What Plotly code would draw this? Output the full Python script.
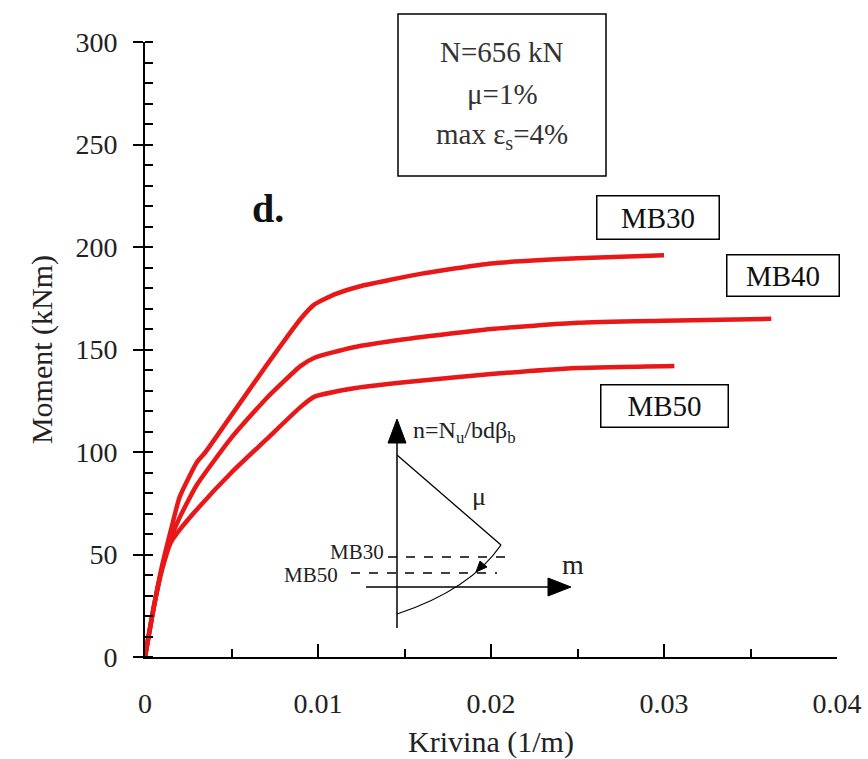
import plotly.graph_objects as go

# ---- data ----
mb30_x = [0, 0.0005, 0.001, 0.0015, 0.002, 0.003, 0.0035, 0.005, 0.007, 0.009, 0.0098, 0.011, 0.0125, 0.016, 0.02, 0.025, 0.030]
mb30_y = [0, 24, 45, 62, 78, 95, 100, 118, 142, 165, 172, 177, 181, 187, 192, 194.5, 196]
mb40_x = [0, 0.0005, 0.001, 0.0015, 0.002, 0.003, 0.005, 0.007, 0.009, 0.0098, 0.012, 0.015, 0.02, 0.025, 0.030, 0.0362]
mb40_y = [0, 24, 44, 58, 68, 84, 107, 126, 142, 146, 151, 155, 160, 163, 164, 165]
mb50_x = [0, 0.0005, 0.001, 0.0015, 0.002, 0.003, 0.005, 0.007, 0.009, 0.0098, 0.012, 0.015, 0.02, 0.025, 0.0306]
mb50_y = [0, 24, 43, 56, 62, 72, 90, 106, 122, 127, 131, 134, 138, 141, 142]

x_ticks = [0, 0.01, 0.02, 0.03, 0.04]
x_tick_labels = ["0", "0.01", "0.02", "0.03", "0.04"]
y_ticks = [0, 50, 100, 150, 200, 250, 300]

W, H = 868, 759
L, R, T, B = 145, 31, 42, 102
XR = [0, 0.04]
YR = [0, 300]

# pixel -> paper helpers for the decorations (annotation boxes, inset sketch)
def px(xp):
    return (xp - L) / (W - L - R)

def py(yp):
    return (H - B - yp) / (H - T - B)

RED = "#e81818"
SERIF = "Liberation Serif"
TXT = "#222"

fig = go.Figure()
for xs, ys, nm in [(mb30_x, mb30_y, "MB30"), (mb40_x, mb40_y, "MB40"), (mb50_x, mb50_y, "MB50")]:
    fig.add_trace(go.Scatter(x=xs, y=ys, mode="lines", name=nm,
                             line=dict(color=RED, width=4.5, shape="spline", smoothing=0.5),
                             showlegend=False))

fig.add_trace(go.Scatter(x=[None], y=[None], xaxis="x2", yaxis="y2", showlegend=False))

shapes = []
annotations = []

def text(xp, yp, txt, size, xanchor="center", color=TXT, **kw):
    annotations.append(dict(x=px(xp), y=py(yp), xref="paper", yref="paper", text=txt, showarrow=False,
                            xanchor=xanchor, yanchor="middle",
                            font=dict(family=SERIF, size=size, color=color), **kw))

# top info box
shapes.append(dict(type="rect", xref="paper", yref="paper", x0=px(398), x1=px(606), y0=py(176), y1=py(14),
                   line=dict(color="black", width=1.5), fillcolor="white", layer="above"))
text(502, 52, "N=656 kN", 29, color="#333")
text(502, 94, "μ=1%", 29, color="#333")
text(502, 136, "max ε<sub>s</sub>=4%", 29, color="#333")

# "d."
text(268, 208, "<b>d.</b>", 40, color="#111")

# curve label boxes
for txt, cx, cy, w, h in [("MB30", 658, 218, 119, 40), ("MB40", 783, 275, 109, 38), ("MB50", 664, 406, 124, 39)]:
    text(cx, cy, txt, 29, color="#111", bordercolor="black", borderwidth=1.5, bgcolor="white",
         width=w, height=h, borderpad=1)

# inset diagram
def line(x0, y0, x1, y1, dash="solid", width=1.3):
    shapes.append(dict(type="line", xref="paper", yref="paper", x0=px(x0), y0=py(y0), x1=px(x1), y1=py(y1),
                       line=dict(color="black", width=width, dash=dash)))

def tri(pts):
    d = "M " + " L ".join(f"{px(a)},{py(b)}" for a, b in pts) + " Z"
    shapes.append(dict(type="path", xref="paper", yref="paper", path=d, fillcolor="black",
                       line=dict(color="black", width=1)))

line(397, 628, 397, 440, width=1.5)
tri([(397, 419), (388, 443), (406, 443)])
line(366, 587, 550, 587, width=1.5)
tri([(571, 587), (548, 578), (548, 596)])
line(397, 455, 501, 545)
shapes.append(dict(type="path", xref="paper", yref="paper",
                   path=f"M {px(501)},{py(545)} Q {px(470)},{py(590)} {px(397)},{py(614)}",
                   line=dict(color="black", width=1.3)))
tri([(476, 572), (480, 561), (487, 567)])
line(388, 557, 513, 557, dash="dash")
line(351, 573, 497, 573, dash="dash")

text(411, 432, "n=N<sub>u</sub>/bdβ<sub>b</sub>", 24, xanchor="left")
text(479, 496, "μ", 26)
text(573, 564, "m", 28)
text(386, 552, "MB30", 21, xanchor="right")
text(340, 575, "MB50", 21, xanchor="right")

fig.update_layout(
    width=W, height=H,
    margin=dict(l=L, r=R, t=T, b=B),
    paper_bgcolor="white", plot_bgcolor="white",
    shapes=shapes, annotations=annotations,
    font=dict(family=SERIF, color=TXT),
    xaxis=dict(range=XR, tickvals=x_ticks, ticktext=x_tick_labels, showgrid=False, zeroline=False,
               showline=True, linecolor="black", linewidth=2, automargin=False,
               ticks="inside", ticklen=13, tickwidth=1.5, tickcolor="black",
               minor=dict(tickvals=[0.005, 0.015, 0.025, 0.035], ticks="inside", ticklen=8, tickwidth=1.5, tickcolor="black"),
               tickfont=dict(family=SERIF, size=28, color=TXT), ticklabelstandoff=20,
               title=dict(text="Krivina (1/m)", font=dict(family=SERIF, size=30, color=TXT), standoff=14)),
    yaxis=dict(range=YR, tickvals=y_ticks, showgrid=False, zeroline=False,
               showline=True, linecolor="black", linewidth=2, automargin=False,
               ticks="outside", ticklen=10, tickwidth=1.5, tickcolor="black",
               minor=dict(dtick=10, ticks="inside", ticklen=8, tickwidth=1.5, tickcolor="black"),
               tickfont=dict(family=SERIF, size=28, color=TXT), ticklabelstandoff=10,
               title=dict(text="Moment (kNm)", font=dict(family=SERIF, size=30, color=TXT), standoff=14)),
    xaxis2=dict(range=XR, overlaying="x", visible=False),
    yaxis2=dict(range=YR, overlaying="y", tickvals=y_ticks, showticklabels=False, showgrid=False,
                zeroline=False, ticks="inside", ticklen=8, tickwidth=1.5, tickcolor="black", showline=False),
)

fig.write_html("out.html")
